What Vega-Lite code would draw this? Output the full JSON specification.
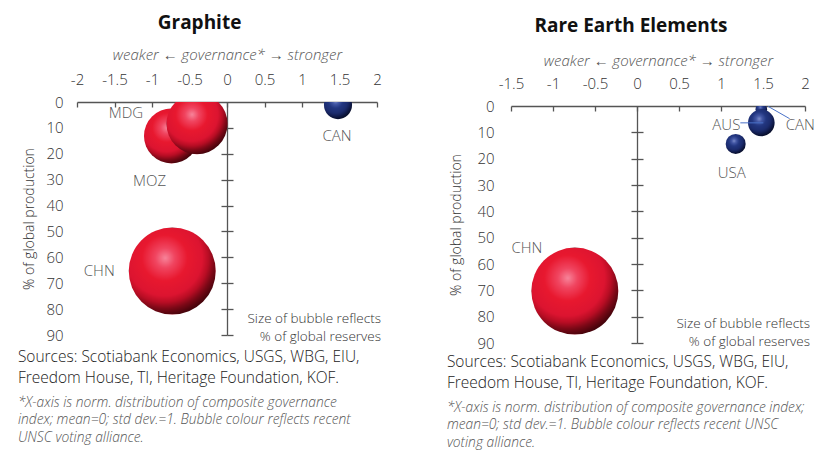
{
  "$schema": "https://vega.github.io/schema/vega-lite/v6.json",
  "padding": {"left": 17, "top": 14, "right": 5, "bottom": 0},
  "config": {
    "font": "Open Sans",
    "view": {"stroke": null},
    "locale": {"number": {"decimal": ".", "thousands": ",", "grouping": [3], "currency": ["$", ""], "minus": "-"}}
  },
  "datasets": {
    "bubbles": [
      {"mineral": "Graphite", "country": "CHN", "gov": -0.73, "prod": 65.3, "reserves": 24, "bloc": "China-leaning"},
      {"mineral": "Graphite", "country": "MOZ", "gov": -0.74, "prod": 13.1, "reserves": 9.6, "bloc": "China-leaning"},
      {"mineral": "Graphite", "country": "MDG", "gov": -0.4, "prod": 8.4, "reserves": 11.8, "bloc": "China-leaning"},
      {"mineral": "Graphite", "country": "CAN", "gov": 1.48, "prod": 1.2, "reserves": 2.5, "bloc": "West-leaning"},
      {"mineral": "REE", "country": "CHN", "gov": -0.74, "prod": 70.3, "reserves": 34, "bloc": "China-leaning"},
      {"mineral": "REE", "country": "CAN", "gov": 1.48, "prod": 1.2, "reserves": 0.6, "bloc": "West-leaning"},
      {"mineral": "REE", "country": "AUS", "gov": 1.48, "prod": 6.4, "reserves": 3.2, "bloc": "West-leaning"},
      {"mineral": "REE", "country": "USA", "gov": 1.175, "prod": 14.4, "reserves": 1.8, "bloc": "West-leaning"}
    ]
  },
  "spacing": 64,
  "resolve": {"scale": {"x": "independent", "y": "independent", "size": "independent"}},
  "hconcat": [
    {
      "title": {"text": "Graphite", "fontSize": 19, "fontWeight": "bold", "color": "#111", "anchor": "middle", "frame": "bounds", "offset": -6},
      "spacing": 0,
      "vconcat": [
        {"width": 300, "height": 0, "data": {"values": []}, "mark": {"type": "text"}},
        {
          "width": 300,
          "height": 233,
          "data": {"name": "bubbles"},
          "transform": [{"filter": "datum.mineral === 'Graphite'"}],
          "title": {
            "text": ["Sources: Scotiabank Economics, USGS, WBG, EIU,", "Freedom House, TI, Heritage Foundation, KOF."],
            "subtitle": ["*X-axis is norm. distribution of composite governance", "index; mean=0; std dev.=1. Bubble colour reflects recent", "UNSC voting alliance."],
            "orient": "bottom", "anchor": "start", "frame": "bounds", "dx": -5,
            "fontSize": 15.5, "fontWeight": 300, "color": "#222", "lineHeight": 21,
            "subtitleFontSize": 13.8, "subtitleFontStyle": "italic", "subtitleFontWeight": 300, "subtitleColor": "#555", "subtitleLineHeight": 17.5, "subtitlePadding": 9,
            "offset": 7
          },
          "resolve": {"axis": {"x": "independent", "y": "independent"}},
          "layer": [
            {
              "mark": {
                "type": "circle", "opacity": 1, "clip": true,
                "color": {"gradient": "radial", "x1": 0.42, "y1": 0.35, "r1": 0, "x2": 0.4, "y2": 0.35, "r2": 0.75,
                  "stops": [{"offset": 0, "color": "#f7849a"}, {"offset": 0.15, "color": "#f04560"}, {"offset": 0.35, "color": "#e8182f"}, {"offset": 0.58, "color": "#dc1430"}, {"offset": 0.68, "color": "#b80d24"}, {"offset": 0.78, "color": "#7a0816"}, {"offset": 0.88, "color": "#4a040c"}, {"offset": 1, "color": "#300208"}]}
              },
              "encoding": {
                "x": {"field": "gov", "type": "quantitative", "scale": {"domain": [-2, 2]},
                  "axis": {"orient": "top", "values": [-2, -1.5, -1, -0.5, 0, 0.5, 1, 1.5, 2], "format": "~g", "ticks": false, "domain": true, "domainColor": "#555", "domainWidth": 1.3, "grid": false, "labelFlush": false, "labelFontSize": 15, "labelFontWeight": 300, "labelColor": "#333", "labelPadding": 15,
                    "title": "weaker  ←   governance*   →  stronger", "titleFontStyle": "italic", "titleFontWeight": 300, "titleFontSize": 15, "titleColor": "#555", "titlePadding": 10}},
                "y": {"field": "prod", "type": "quantitative", "scale": {"domain": [0, 90], "reverse": true},
                  "axis": {"orient": "left", "values": [0, 10, 20, 30, 40, 50, 60, 70, 80, 90], "ticks": false, "domain": false, "grid": false, "labelFontSize": 15, "labelFontWeight": 300, "labelColor": "#333", "labelPadding": 14,
                    "title": "% of global production", "titleFontSize": 14, "titleFontWeight": 300, "titleColor": "#333", "titlePadding": 9}},
                "size": {"field": "reserves", "type": "quantitative", "scale": {"domain": [0, 24], "range": [0, 7569]}, "legend": null},
                "color": {"condition": {"test": "datum.bloc === 'West-leaning'", "value": {"gradient": "radial", "x1": 0.42, "y1": 0.35, "r1": 0, "x2": 0.4, "y2": 0.35, "r2": 0.75,
                  "stops": [{"offset": 0, "color": "#8090cc"}, {"offset": 0.15, "color": "#4458a6"}, {"offset": 0.35, "color": "#223680"}, {"offset": 0.58, "color": "#1c2c6e"}, {"offset": 0.68, "color": "#15225a"}, {"offset": 0.78, "color": "#0d1640"}, {"offset": 0.88, "color": "#080e2a"}, {"offset": 1, "color": "#050818"}]}},
                  "value": {"gradient": "radial", "x1": 0.42, "y1": 0.35, "r1": 0, "x2": 0.4, "y2": 0.35, "r2": 0.75,
                  "stops": [{"offset": 0, "color": "#f7849a"}, {"offset": 0.15, "color": "#f04560"}, {"offset": 0.35, "color": "#e8182f"}, {"offset": 0.58, "color": "#dc1430"}, {"offset": 0.68, "color": "#b80d24"}, {"offset": 0.78, "color": "#7a0816"}, {"offset": 0.88, "color": "#4a040c"}, {"offset": 1, "color": "#300208"}]}}
              }
            },
            {
              "transform": [{"filter": "datum.country === 'CHN'"}],
              "mark": {"type": "text", "text": ["Size of bubble reflects", "% of global reserves"], "align": "right", "baseline": "middle", "fontSize": 13.5, "fontWeight": 300, "lineHeight": 18, "color": "#333", "dx": 4},
              "encoding": {
                "x": {"datum": 2, "type": "quantitative",
                  "axis": {"orient": "bottom", "offset": -233, "values": [-2, -1.5, -1, -0.5, 0, 0.5, 1, 1.5, 2], "labels": false, "domain": false, "ticks": true, "tickSize": 5, "tickColor": "#555", "tickWidth": 1.3, "grid": false, "title": null}},
                "y": {"datum": 83.8, "type": "quantitative",
                  "axis": {"orient": "left", "offset": -150, "values": [10, 20, 30, 40, 50, 60, 70, 80, 90], "labels": false, "domain": true, "domainColor": "#555", "domainWidth": 1.3, "ticks": true, "tickSize": 6, "tickColor": "#555", "tickWidth": 1.3, "grid": false, "title": null}}
              }
            },
            {
              "transform": [{"filter": "datum.country === 'CHN'"}],
              "mark": {"type": "text", "fontSize": 15, "fontWeight": 300, "color": "#555", "dx": -73, "dy": 0},
              "encoding": {
                "x": {"field": "gov", "type": "quantitative", "axis": null},
                "y": {"field": "prod", "type": "quantitative",
                  "axis": {"orient": "right", "offset": -150, "values": [10, 20, 30, 40, 50, 60, 70, 80, 90], "labels": false, "domain": false, "ticks": true, "tickSize": 6, "tickColor": "#555", "tickWidth": 1.3, "grid": false, "title": null}},
                "text": {"field": "country"}
              }
            },
            {
              "transform": [{"filter": "datum.country === 'MOZ'"}],
              "mark": {"type": "text", "fontSize": 15, "fontWeight": 300, "color": "#555", "dx": -22, "dy": 45},
              "encoding": {
                "x": {"field": "gov", "type": "quantitative", "axis": null},
                "y": {"field": "prod", "type": "quantitative", "axis": null},
                "text": {"field": "country"}
              }
            },
            {
              "transform": [{"filter": "datum.country === 'MDG'"}],
              "mark": {"type": "text", "fontSize": 15, "fontWeight": 300, "color": "#555", "dx": -71, "dy": -11},
              "encoding": {
                "x": {"field": "gov", "type": "quantitative", "axis": null},
                "y": {"field": "prod", "type": "quantitative", "axis": null},
                "text": {"field": "country"}
              }
            },
            {
              "transform": [{"filter": "datum.country === 'CAN'"}],
              "mark": {"type": "text", "fontSize": 15, "fontWeight": 300, "color": "#555", "dx": -1, "dy": 31},
              "encoding": {
                "x": {"field": "gov", "type": "quantitative", "axis": null},
                "y": {"field": "prod", "type": "quantitative", "axis": null},
                "text": {"field": "country"}
              }
            }
          ]
        }
      ]
    },
    {
      "title": {"text": "Rare Earth Elements", "fontSize": 19, "fontWeight": "bold", "color": "#111", "anchor": "middle", "frame": "bounds", "offset": -9},
      "spacing": 6,
      "vconcat": [
        {"width": 294, "height": 0, "data": {"values": []}, "mark": {"type": "text"}},
        {
          "width": 294,
          "height": 237,
          "data": {"name": "bubbles"},
          "transform": [{"filter": "datum.mineral === 'REE'"}],
          "title": {
            "text": ["Sources: Scotiabank Economics, USGS, WBG, EIU,", "Freedom House, TI, Heritage Foundation, KOF."],
            "subtitle": ["*X-axis is norm. distribution of composite governance index;", "mean=0; std dev.=1. Bubble colour reflects recent UNSC", "voting alliance."],
            "orient": "bottom", "anchor": "start", "frame": "bounds", "dx": -3,
            "fontSize": 15.5, "fontWeight": 300, "color": "#222", "lineHeight": 21,
            "subtitleFontSize": 13.8, "subtitleFontStyle": "italic", "subtitleFontWeight": 300, "subtitleColor": "#555", "subtitleLineHeight": 17.5, "subtitlePadding": 9,
            "offset": 4
          },
          "resolve": {"axis": {"x": "independent", "y": "independent"}},
          "layer": [
            {
              "mark": {
                "type": "circle", "opacity": 1, "clip": true,
                "color": {"gradient": "radial", "x1": 0.42, "y1": 0.35, "r1": 0, "x2": 0.4, "y2": 0.35, "r2": 0.75,
                  "stops": [{"offset": 0, "color": "#f7849a"}, {"offset": 0.15, "color": "#f04560"}, {"offset": 0.35, "color": "#e8182f"}, {"offset": 0.58, "color": "#dc1430"}, {"offset": 0.68, "color": "#b80d24"}, {"offset": 0.78, "color": "#7a0816"}, {"offset": 0.88, "color": "#4a040c"}, {"offset": 1, "color": "#300208"}]}
              },
              "encoding": {
                "x": {"field": "gov", "type": "quantitative", "scale": {"domain": [-1.5, 2]},
                  "axis": {"orient": "top", "values": [-1.5, -1, -0.5, 0, 0.5, 1, 1.5, 2], "format": "~g", "ticks": false, "domain": true, "domainColor": "#555", "domainWidth": 1.3, "grid": false, "labelFlush": false, "labelFontSize": 15, "labelFontWeight": 300, "labelColor": "#333", "labelPadding": 15,
                    "title": "weaker  ←   governance*   →  stronger", "titleFontStyle": "italic", "titleFontWeight": 300, "titleFontSize": 15, "titleColor": "#555", "titlePadding": 8}},
                "y": {"field": "prod", "type": "quantitative", "scale": {"domain": [0, 90], "reverse": true},
                  "axis": {"orient": "left", "values": [0, 10, 20, 30, 40, 50, 60, 70, 80, 90], "ticks": false, "domain": false, "grid": false, "labelFontSize": 15, "labelFontWeight": 300, "labelColor": "#333", "labelPadding": 17,
                    "title": "% of global production", "titleFontSize": 14, "titleFontWeight": 300, "titleColor": "#333", "titlePadding": 13}},
                "size": {"field": "reserves", "type": "quantitative", "scale": {"domain": [0, 34], "range": [0, 7569]}, "legend": null},
                "color": {"condition": {"test": "datum.bloc === 'West-leaning'", "value": {"gradient": "radial", "x1": 0.42, "y1": 0.35, "r1": 0, "x2": 0.4, "y2": 0.35, "r2": 0.75,
                  "stops": [{"offset": 0, "color": "#8090cc"}, {"offset": 0.15, "color": "#4458a6"}, {"offset": 0.35, "color": "#223680"}, {"offset": 0.58, "color": "#1c2c6e"}, {"offset": 0.68, "color": "#15225a"}, {"offset": 0.78, "color": "#0d1640"}, {"offset": 0.88, "color": "#080e2a"}, {"offset": 1, "color": "#050818"}]}},
                  "value": {"gradient": "radial", "x1": 0.42, "y1": 0.35, "r1": 0, "x2": 0.4, "y2": 0.35, "r2": 0.75,
                  "stops": [{"offset": 0, "color": "#f7849a"}, {"offset": 0.15, "color": "#f04560"}, {"offset": 0.35, "color": "#e8182f"}, {"offset": 0.58, "color": "#dc1430"}, {"offset": 0.68, "color": "#b80d24"}, {"offset": 0.78, "color": "#7a0816"}, {"offset": 0.88, "color": "#4a040c"}, {"offset": 1, "color": "#300208"}]}}
              }
            },
            {
              "transform": [{"filter": "datum.country === 'CHN'"}],
              "mark": {"type": "text", "text": ["Size of bubble reflects", "% of global reserves"], "align": "right", "baseline": "middle", "fontSize": 13.5, "fontWeight": 300, "lineHeight": 18, "color": "#333", "dx": 5},
              "encoding": {
                "x": {"datum": 2, "type": "quantitative",
                  "axis": {"orient": "bottom", "offset": -237, "values": [-1.5, -1, -0.5, 0, 0.5, 1, 1.5, 2], "labels": false, "domain": false, "ticks": true, "tickSize": 5, "tickColor": "#555", "tickWidth": 1.3, "grid": false, "title": null}},
                "y": {"datum": 82.9, "type": "quantitative",
                  "axis": {"orient": "left", "offset": -126, "values": [10, 20, 30, 40, 50, 60, 70, 80, 90], "labels": false, "domain": true, "domainColor": "#555", "domainWidth": 1.3, "ticks": true, "tickSize": 6, "tickColor": "#555", "tickWidth": 1.3, "grid": false, "title": null}}
              }
            },
            {
              "transform": [{"filter": "datum.country === 'AUS'"}],
              "mark": {"type": "rule", "color": "#4a72c8", "strokeWidth": 1, "xOffset": -21, "x2Offset": 2, "yOffset": 0, "y2Offset": 0},
              "encoding": {
                "x": {"field": "gov", "type": "quantitative", "axis": null},
                "x2": {"field": "gov"},
                "y": {"field": "prod", "type": "quantitative",
                  "axis": {"orient": "right", "offset": -168, "values": [10, 20, 30, 40, 50, 60, 70, 80, 90], "labels": false, "domain": false, "ticks": true, "tickSize": 6, "tickColor": "#555", "tickWidth": 1.3, "grid": false, "title": null}},
                "y2": {"field": "prod"}
              }
            },
            {
              "transform": [{"filter": "datum.country === 'CAN'"}],
              "mark": {"type": "rule", "color": "#4a72c8", "strokeWidth": 1, "xOffset": 6.6, "x2Offset": 28.3, "yOffset": -2.9, "y2Offset": 9.5},
              "encoding": {
                "x": {"field": "gov", "type": "quantitative", "axis": null},
                "x2": {"field": "gov"},
                "y": {"field": "prod", "type": "quantitative", "axis": null},
                "y2": {"field": "prod"}
              }
            },
            {
              "transform": [{"filter": "datum.country === 'CHN'"}],
              "mark": {"type": "text", "fontSize": 15, "fontWeight": 300, "color": "#555", "dx": -48, "dy": -43},
              "encoding": {
                "x": {"field": "gov", "type": "quantitative", "axis": null},
                "y": {"field": "prod", "type": "quantitative", "axis": null},
                "text": {"field": "country"}
              }
            },
            {
              "transform": [{"filter": "datum.country === 'AUS'"}],
              "mark": {"type": "text", "fontSize": 15, "fontWeight": 300, "color": "#555", "dx": -35, "dy": 2},
              "encoding": {
                "x": {"field": "gov", "type": "quantitative", "axis": null},
                "y": {"field": "prod", "type": "quantitative", "axis": null},
                "text": {"field": "country"}
              }
            },
            {
              "transform": [{"filter": "datum.country === 'CAN'"}],
              "mark": {"type": "text", "fontSize": 15, "fontWeight": 300, "color": "#555", "dx": 39, "dy": 16},
              "encoding": {
                "x": {"field": "gov", "type": "quantitative", "axis": null},
                "y": {"field": "prod", "type": "quantitative", "axis": null},
                "text": {"field": "country"}
              }
            },
            {
              "transform": [{"filter": "datum.country === 'USA'"}],
              "mark": {"type": "text", "fontSize": 15, "fontWeight": 300, "color": "#555", "dx": -4, "dy": 29},
              "encoding": {
                "x": {"field": "gov", "type": "quantitative", "axis": null},
                "y": {"field": "prod", "type": "quantitative", "axis": null},
                "text": {"field": "country"}
              }
            }
          ]
        }
      ]
    }
  ]
}
